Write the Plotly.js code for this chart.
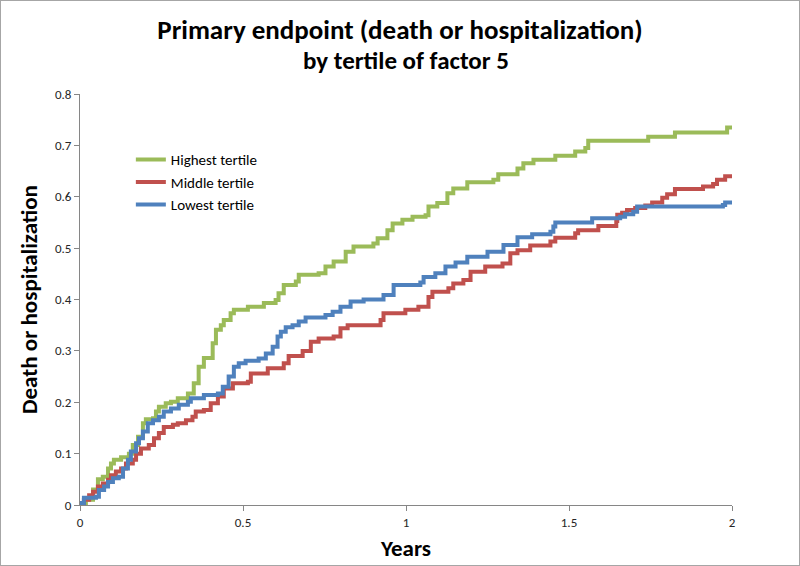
<!DOCTYPE html>
<html>
<head>
<meta charset="utf-8">
<script src="https://cdn.plot.ly/plotly-3.0.1.min.js"></script>
<style>
html,body{margin:0;padding:0;background:#fff;}
#chart{width:798px;height:564px;border:1px solid #a6a6a6;}
</style>
</head>
<body>
<div id="chart"></div>
<script>
// Highest tertile (green)
const highYears = [0,0.003,0.018,0.040,0.055,0.070,0.086,0.095,0.104,0.126,0.150,0.162,0.178,0.193,0.202,0.224,0.233,0.242,0.263,0.279,0.300,0.331,0.349,0.364,0.380,0.407,0.417,0.432,0.441,0.462,0.472,0.515,0.564,0.600,0.609,0.625,0.662,0.671,0.732,0.753,0.778,0.815,0.839,0.900,0.913,0.943,0.959,0.989,1.020,1.060,1.069,1.096,1.127,1.145,1.188,1.268,1.283,1.342,1.360,1.391,1.458,1.519,1.550,1.559,1.743,1.825,1.985,2.0];
const highVals  = [0,0.0,0.01,0.03,0.05,0.055,0.071,0.081,0.088,0.093,0.10,0.117,0.133,0.159,0.167,0.169,0.182,0.191,0.198,0.201,0.208,0.217,0.237,0.269,0.286,0.315,0.341,0.35,0.36,0.373,0.38,0.386,0.393,0.399,0.412,0.428,0.435,0.448,0.451,0.464,0.474,0.493,0.503,0.509,0.519,0.535,0.548,0.555,0.561,0.564,0.581,0.588,0.607,0.616,0.628,0.633,0.644,0.655,0.665,0.672,0.68,0.688,0.695,0.709,0.717,0.725,0.735,0.735];

// Middle tertile (red)
const midYears = [0,0.012,0.028,0.040,0.055,0.070,0.086,0.095,0.110,0.126,0.141,0.162,0.172,0.187,0.211,0.227,0.242,0.257,0.285,0.300,0.325,0.345,0.355,0.380,0.401,0.423,0.441,0.469,0.515,0.524,0.576,0.625,0.640,0.683,0.708,0.732,0.778,0.799,0.821,0.922,0.931,0.998,1.038,1.069,1.081,1.130,1.145,1.176,1.198,1.243,1.296,1.320,1.342,1.381,1.443,1.458,1.519,1.528,1.590,1.645,1.648,1.663,1.678,1.703,1.734,1.755,1.786,1.801,1.825,1.911,1.942,1.954,1.979,2.0];
const midVals  = [0,0.01,0.019,0.026,0.036,0.042,0.049,0.058,0.065,0.071,0.081,0.088,0.10,0.11,0.117,0.13,0.14,0.152,0.156,0.159,0.165,0.172,0.182,0.185,0.198,0.211,0.227,0.237,0.24,0.256,0.266,0.276,0.29,0.30,0.318,0.324,0.328,0.344,0.35,0.36,0.373,0.38,0.386,0.405,0.415,0.422,0.431,0.438,0.454,0.464,0.47,0.49,0.496,0.505,0.513,0.52,0.529,0.535,0.543,0.553,0.565,0.569,0.574,0.578,0.583,0.589,0.598,0.605,0.615,0.62,0.625,0.633,0.64,0.64];

// Lowest tertile (blue)
const lowYears = [0,0.003,0.012,0.049,0.058,0.074,0.086,0.101,0.119,0.132,0.147,0.156,0.172,0.181,0.193,0.208,0.224,0.242,0.257,0.279,0.303,0.331,0.340,0.380,0.423,0.438,0.456,0.472,0.487,0.508,0.548,0.570,0.591,0.606,0.616,0.631,0.652,0.671,0.692,0.753,0.775,0.799,0.830,0.870,0.931,0.962,1.044,1.054,1.090,1.121,1.152,1.188,1.250,1.299,1.342,1.387,1.443,1.452,1.458,1.571,1.657,1.672,1.697,1.709,1.972,1.979,2.0];
const lowVals  = [0,0.004,0.014,0.016,0.029,0.036,0.045,0.052,0.055,0.071,0.088,0.104,0.12,0.13,0.143,0.159,0.165,0.172,0.182,0.188,0.195,0.201,0.208,0.214,0.217,0.23,0.25,0.269,0.276,0.281,0.285,0.295,0.308,0.328,0.337,0.346,0.35,0.357,0.365,0.37,0.376,0.386,0.396,0.40,0.409,0.428,0.433,0.444,0.451,0.464,0.472,0.483,0.493,0.506,0.521,0.527,0.532,0.542,0.55,0.558,0.561,0.566,0.571,0.581,0.584,0.589,0.589];

const seriesNames = ['Highest tertile','Middle tertile','Lowest tertile'];
const seriesColors = ['#9bbb59','#c0504d','#4f81bd'];
const xTicks = [0,0.5,1,1.5,2];
const xTickText = ['0','0.5','1','1.5','2'];
const yTicks = [0,0.1,0.2,0.3,0.4,0.5,0.6,0.7,0.8];
const yTickText = ['0','0.1','0.2','0.3','0.4','0.5','0.6','0.7','0.8'];

const FONT = "Carlito, Calibri, 'Liberation Sans Narrow', 'Open Sans', sans-serif";

const xs = [highYears, midYears, lowYears];
const ys = [highVals, midVals, lowVals];
const traces = xs.map((x,i)=>({
  x: x, y: ys[i], type:'scatter', mode:'lines', name: seriesNames[i],
  line:{color: seriesColors[i], width:4, shape:'hv'}
}));

const layout = {
  width:798, height:564,
  margin:{l:79, r:67, t:93, b:60},
  paper_bgcolor:'#fff', plot_bgcolor:'#fff',
  font:{family:FONT, color:'#262626', size:13},
  title:{text:'<b>Primary endpoint (death or hospitalization)</b>', font:{size:27, family:FONT, color:'#000'}, x:0.5, xanchor:'center', y:0.95, yanchor:'middle', yref:'container'},
  annotations:[{text:'<b>by tertile of factor 5</b>', xref:'paper', yref:'paper', x:0.5, y:1.082, xanchor:'center', yanchor:'middle', showarrow:false, font:{size:25, family:FONT, color:'#000'}}],
  xaxis:{range:[0,2], tickvals:xTicks, ticktext:xTickText, showline:true, linecolor:'#868686', linewidth:1, ticks:'outside', ticklen:5, tickcolor:'#868686', showgrid:false, zeroline:false, tickfont:{size:13}, title:{text:'<b>Years</b>', font:{size:23, color:'#000'}, standoff:11}},
  yaxis:{range:[0,0.8], tickvals:yTicks, ticktext:yTickText, showline:true, linecolor:'#868686', linewidth:1, ticks:'outside', ticklen:5, tickcolor:'#868686', showgrid:false, zeroline:false, tickfont:{size:13}, title:{text:'<b>Death or hospitalization</b>', font:{size:23, color:'#000'}, standoff:10}},
  showlegend:true,
  legend:{x:0.078, y:0.88, xanchor:'left', yanchor:'top', bgcolor:'rgba(0,0,0,0)', font:{size:15, color:'#000'}, itemwidth:30, tracegroupgap:0}
};
Plotly.newPlot('chart', traces, layout, {displayModeBar:false, staticPlot:true});
</script>
</body>
</html>
